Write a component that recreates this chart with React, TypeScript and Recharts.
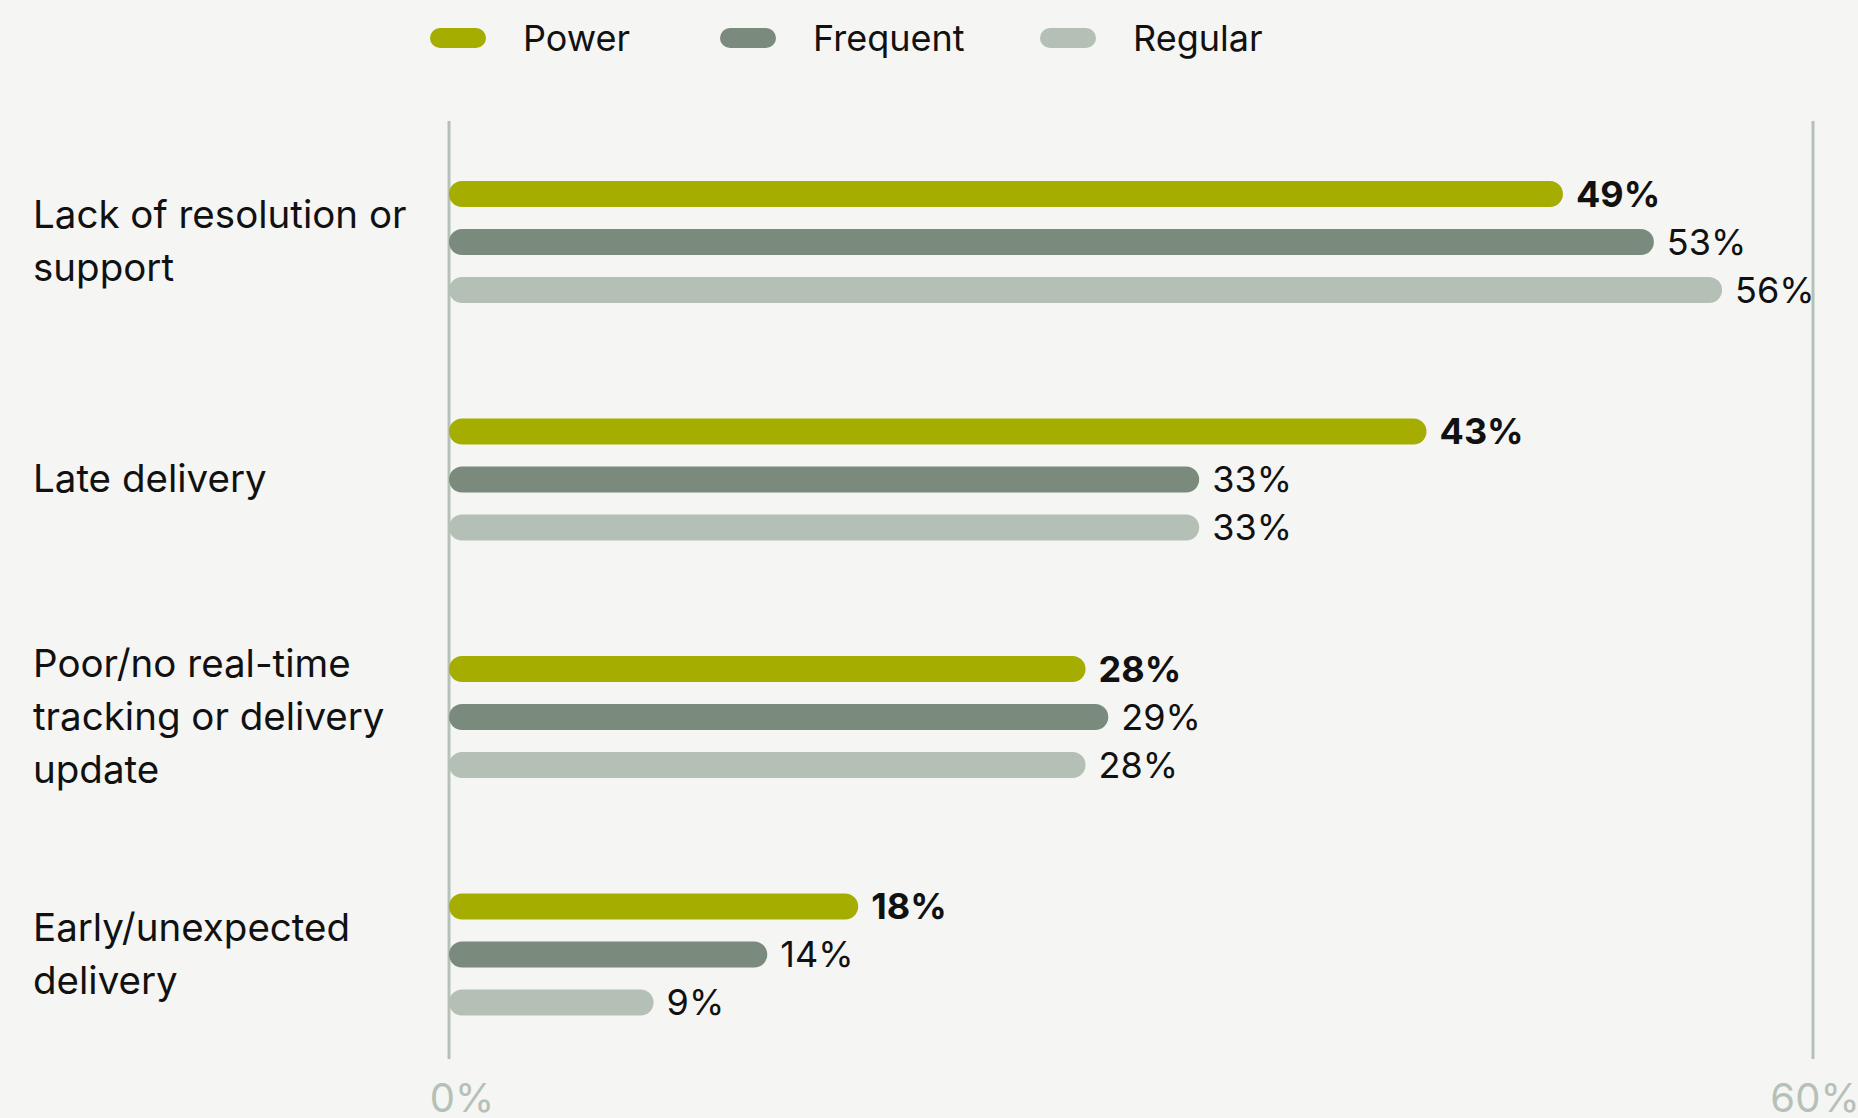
import { Bar, BarChart, CartesianGrid, LabelList, Legend, XAxis, YAxis } from "recharts";

const categories = [
  ["Lack of resolution or", "support"],
  ["Late delivery"],
  ["Poor/no real-time", "tracking or delivery", "update"],
  ["Early/unexpected", "delivery"],
];
const seriesNames = ["Power", "Frequent", "Regular"];
const power = [49, 43, 28, 18];
const frequent = [53, 33, 29, 14];
const regular = [56, 33, 28, 9];
const xTicks = [0, 60];

const data = categories.map((lines, i) => ({
  name: lines.join(" "),
  power: power[i],
  frequent: frequent[i],
  regular: regular[i],
}));
const linesByName: Record<string, string[]> = Object.fromEntries(categories.map((l) => [l.join(" "), l]));

const FONT = "Inter, 'DejaVu Sans', sans-serif";
const BG = "#f5f5f3";
const AXIS = "#b5c1b8";
const legendItemWidths = [290, 320, undefined];

function CategoryTick({ y, payload }: any) {
  const lines = linesByName[payload.value] ?? [payload.value];
  const lh = 53;
  return (
    <text fontFamily={FONT} fontSize={38.5} fill="#111">
      {lines.map((l, i) => (
        <tspan key={i} x={33} y={y + 13 + (i - (lines.length - 1) / 2) * lh}>
          {l}
        </tspan>
      ))}
    </text>
  );
}

function ValueTick({ x, y, payload }: any) {
  const shift = payload.value === 0 ? 13 : 2;
  return (
    <text x={x + shift} y={y} dy={31} textAnchor="middle" fontFamily={FONT} fontSize={40} fill={AXIS}>
      {payload.value}%
    </text>
  );
}

function LegendContent({ payload }: any) {
  const items = [...(payload ?? [])].sort((a: any, b: any) => seriesNames.indexOf(a.value) - seriesNames.indexOf(b.value));
  return (
    <div style={{ display: "flex", alignItems: "center", height: 72, fontFamily: FONT, fontSize: 36, color: "#111", lineHeight: 1 }}>
      {items.map((p: any, i: number) => (
        <div key={p.value} style={{ display: "flex", alignItems: "center", gap: 37, width: legendItemWidths[i] }}>
          <span style={{ width: 56, height: 20, borderRadius: 10, background: p.color, display: "inline-block" }} />
          <span>{p.value}</span>
        </div>
      ))}
    </div>
  );
}

export default function App() {
  return (
    <div style={{ position: "absolute", top: 0, left: 0, width: 1858, height: 1118, background: BG }}>
      <BarChart
        width={1858}
        height={1118}
        data={data}
        layout="vertical"
        margin={{ top: 51, right: 45, bottom: 0, left: 0 }}
        barSize={26}
        barGap={22}
      >
        <CartesianGrid
          horizontal={false}
          vertical={(props: any) => (
            <line x1={props.x1} x2={props.x2} y1={props.y1 - 2} y2={props.y2 - 14} stroke={AXIS} strokeWidth={3} />
          )}
        />
        <XAxis
          type="number"
          domain={[0, 60]}
          ticks={xTicks}
          axisLine={false}
          tickLine={false}
          height={45}
          tick={<ValueTick />}
        />
        <YAxis type="category" dataKey="name" width={449} axisLine={false} tickLine={false} tick={<CategoryTick />} />
        <Legend
          verticalAlign="top"
          align="left"
          content={<LegendContent />}
          wrapperStyle={{ left: 430, top: 2, width: "auto" }}
        />
        <Bar dataKey="power" name="Power" fill="#a5ad00" radius={[13, 13, 13, 13]} isAnimationActive={false}>
          <LabelList
            dataKey="power"
            position="right"
            offset={13}
            formatter={(v: any) => `${v}%`}
            style={{ fontFamily: FONT, fontSize: 36, fontWeight: 700, fill: "#111" }}
          />
        </Bar>
        <Bar dataKey="frequent" name="Frequent" fill="#7a8b7e" radius={[13, 13, 13, 13]} isAnimationActive={false}>
          <LabelList
            dataKey="frequent"
            position="right"
            offset={13}
            formatter={(v: any) => `${v}%`}
            style={{ fontFamily: FONT, fontSize: 36, fill: "#111" }}
          />
        </Bar>
        <Bar dataKey="regular" name="Regular" fill="#b4bfb5" radius={[13, 13, 13, 13]} isAnimationActive={false}>
          <LabelList
            dataKey="regular"
            position="right"
            offset={13}
            formatter={(v: any) => `${v}%`}
            style={{ fontFamily: FONT, fontSize: 36, fill: "#111" }}
          />
        </Bar>
      </BarChart>
    </div>
  );
}
